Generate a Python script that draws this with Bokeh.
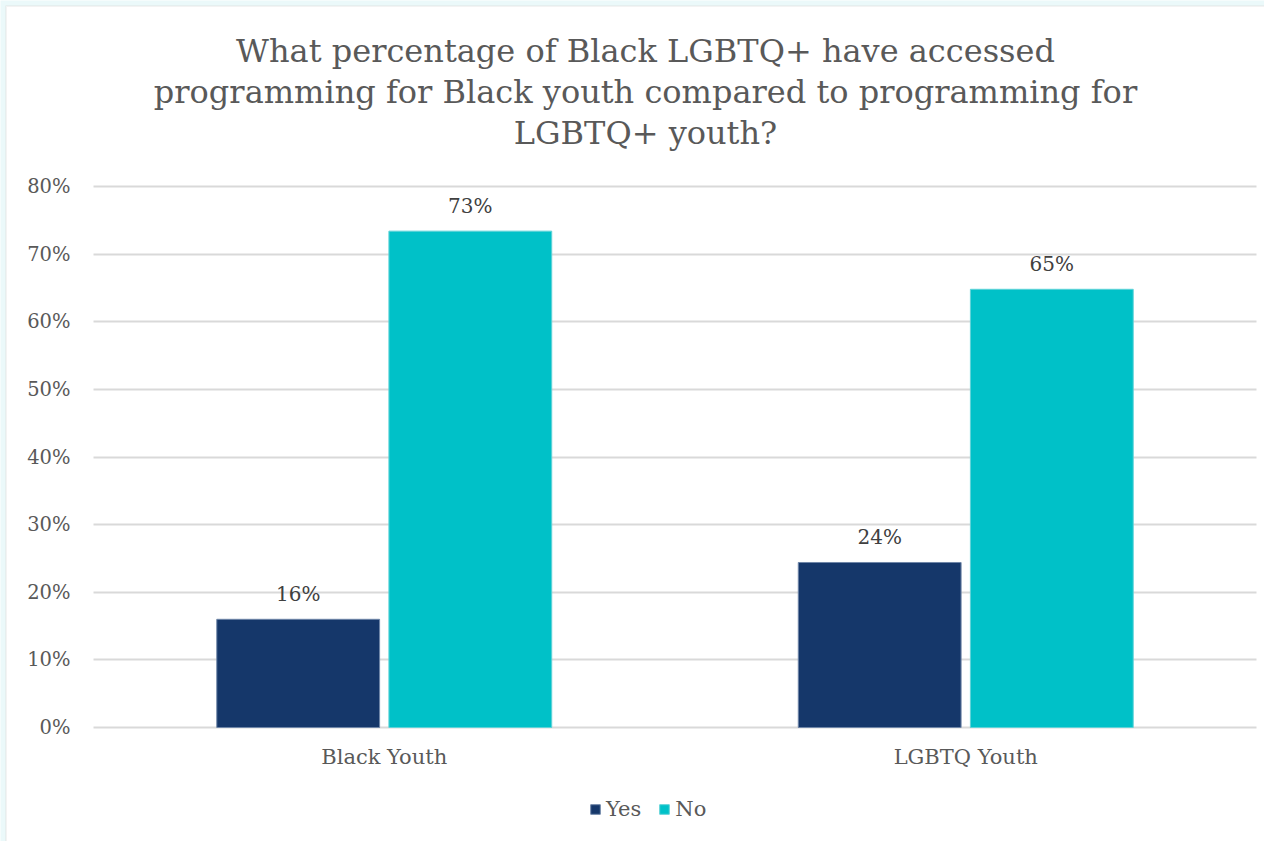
from bokeh.plotting import figure
from bokeh.models import (ColumnDataSource, FixedTicker, Range1d, Label, Legend, LegendItem,
                          NumeralTickFormatter, BoxAnnotation)
from bokeh.core.properties import value
from bokeh.embed import file_html
from bokeh.resources import INLINE

categories = ["Black Youth", "LGBTQ Youth"]
yes_values = [0.16, 0.244]
no_values = [0.734, 0.648]
series_names = ["Yes", "No"]
title_lines = [
    "What percentage of Black LGBTQ+ have accessed",
    "programming for Black youth compared to programming for",
    "LGBTQ+ youth?",
]
y_ticks = [0, 0.1, 0.2, 0.3, 0.4, 0.5, 0.6, 0.7, 0.8]

FONT = "DejaVu Serif"
YES_COLOR = "#15376A"
NO_COLOR = "#00C1C8"
TEXT_COLOR = "#595959"

# ---- layout (pixels of the canvas) ----
W, H = 1264, 841
PX_LEFT, PX_RIGHT = 93, 1256      # plot area left/right
PX_ZERO, PX_TOP = 727, 186        # y of 0% and of 80%
ncat = len(categories)
x_per_px = ncat / (PX_RIGHT - PX_LEFT)
y_per_px = max(y_ticks) / (PX_ZERO - PX_TOP)

def px_x(px):
    return (px - PX_LEFT) * x_per_px

def px_y(py):
    return (PX_ZERO - py) * y_per_px

cat_pos = [i + 0.5 for i in range(ncat)]
offset = 0.148
bar_w = 0.28

src_yes = ColumnDataSource(dict(
    x=[c - offset for c in cat_pos], top=yes_values,
    label=[f"{round(v*100):d}%" for v in yes_values]))
src_no = ColumnDataSource(dict(
    x=[c + offset for c in cat_pos], top=no_values,
    label=[f"{round(v*100):d}%" for v in no_values]))

p = figure(width=W, height=H, output_backend="svg", toolbar_location=None,
           x_range=Range1d(px_x(0), px_x(W)), y_range=Range1d(px_y(H), px_y(0)),
           min_border=0)
p.outline_line_color = None
p.background_fill_color = "#EBF9FA"
p.border_fill_color = "#EBF9FA"

# chart area (white with a thin grey border)
p.add_layout(BoxAnnotation(left=px_x(5.5), right=px_x(W + 20), top=px_y(5.5), bottom=px_y(H + 20),
                           fill_color="white", fill_alpha=1, line_color="#D6D6D6", line_width=2,
                           level="image", editable=False))

r_yes = p.vbar(x="x", top="top", width=bar_w, source=src_yes, fill_color=YES_COLOR,
               line_color="#6F86A8", line_width=1)
r_no = p.vbar(x="x", top="top", width=bar_w, source=src_no, fill_color=NO_COLOR,
              line_color="#5FD3D8", line_width=1)

for src in (src_yes, src_no):
    p.text(x="x", y="top", text="label", source=src, text_align="center",
           text_baseline="alphabetic", y_offset=-25, text_font=value(FONT),
           text_font_size="20px", text_color="#404040")

# axes
p.yaxis.fixed_location = 0
p.yaxis.ticker = FixedTicker(ticks=y_ticks)
p.yaxis.formatter = NumeralTickFormatter(format="0%")
p.yaxis.axis_line_color = None
p.yaxis.major_tick_line_color = None
p.yaxis.minor_tick_line_color = None
p.yaxis.major_label_text_font = FONT
p.yaxis.major_label_text_font_size = "19.5px"
p.yaxis.major_label_text_color = TEXT_COLOR
p.yaxis.major_label_standoff = 17

p.xaxis.fixed_location = 0
p.xaxis.ticker = FixedTicker(ticks=cat_pos)
p.xaxis.major_label_overrides = {c: n for c, n in zip(cat_pos, categories)}
p.xaxis.axis_line_color = None
p.xaxis.major_tick_line_color = None
p.xaxis.minor_tick_line_color = None
p.xaxis.major_label_text_font = FONT
p.xaxis.major_label_text_font_size = "21px"
p.xaxis.major_label_text_color = TEXT_COLOR
p.xaxis.major_label_standoff = 11

p.xgrid.grid_line_color = None
p.ygrid.ticker = FixedTicker(ticks=y_ticks)
p.ygrid.grid_line_color = "#D9D9D9"
p.ygrid.grid_line_width = 2
p.ygrid.cross_bounds = (0, ncat)

# title
baselines = [50, 91, 132]
for line, b in zip(title_lines, baselines):
    p.add_layout(Label(x=px_x(645), y=px_y(b), text=line, text_align="center",
                       text_baseline="alphabetic", text_font=FONT, text_font_size="32px",
                       text_color=TEXT_COLOR))

legend = Legend(items=[LegendItem(label=series_names[0], renderers=[r_yes]),
                       LegendItem(label=series_names[1], renderers=[r_no])],
                orientation="horizontal", location=(589, 20),
                glyph_width=12, glyph_height=12, label_standoff=5, spacing=17,
                label_text_font=FONT, label_text_font_size="21px", label_text_color=TEXT_COLOR,
                border_line_color=None, background_fill_alpha=0, padding=0, margin=0)
p.add_layout(legend, "center")

open("out.html", "w").write(file_html(p, INLINE))
